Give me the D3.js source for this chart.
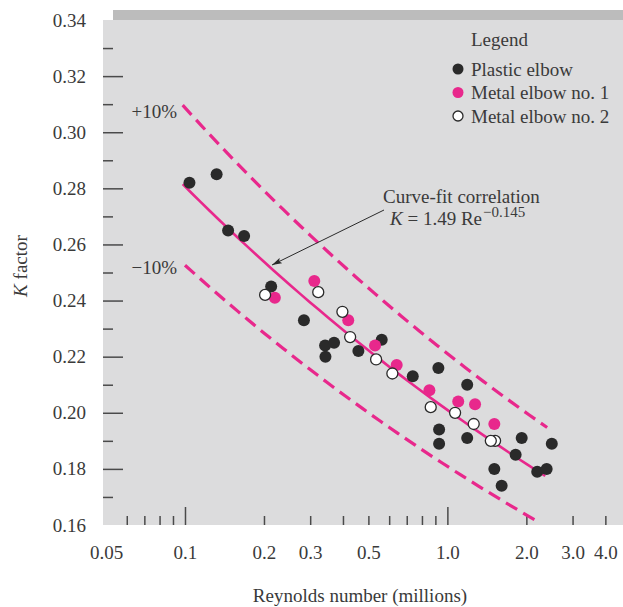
<!DOCTYPE html>
<html>
<head>
<meta charset="utf-8">
<script src="https://cdn.jsdelivr.net/npm/d3@7"></script>
<style>
  body { margin: 0; background: #fff; }
  text { font-family: "Liberation Serif", "Times New Roman", serif; fill: #3a3a3a; }
</style>
</head>
<body>
<div id="chart"></div>
<script>
// Reynolds number (millions), K factor
const plasticElbow = [
  [0.104, 0.282], [0.132, 0.285], [0.146, 0.265], [0.168, 0.263], [0.213, 0.245],
  [0.284, 0.233], [0.342, 0.224], [0.370, 0.225], [0.343, 0.220], [0.458, 0.222],
  [0.562, 0.226], [0.738, 0.213], [0.924, 0.216], [1.19, 0.210], [0.93, 0.194],
  [0.93, 0.189], [1.19, 0.191], [1.92, 0.191], [2.50, 0.189], [1.82, 0.185],
  [1.51, 0.180], [1.61, 0.174], [2.20, 0.179], [2.39, 0.180]
];
const metalElbow1 = [
  [0.220, 0.241], [0.311, 0.247], [0.419, 0.233], [0.530, 0.224], [0.641, 0.217],
  [0.854, 0.208], [1.10, 0.204], [1.275, 0.203], [1.51, 0.196]
];
const metalElbow2 = [
  [0.202, 0.242], [0.322, 0.243], [0.398, 0.236], [0.426, 0.227], [0.535, 0.219],
  [0.617, 0.214], [0.864, 0.202], [1.07, 0.200], [1.26, 0.196], [1.52, 0.190],
  [1.464, 0.190]
];

// K = 1.49 Re^-0.145 (Re in absolute units), with +/-10% bands
const fitCoef = 1.49;
const fitExp = -0.145;
const fitLines = [
  { name: "fit", factor: 1.0, from: 0.098, to: 2.36, dashed: false },
  { name: "plus10", factor: 1.1, from: 0.098, to: 2.40, dashed: true },
  { name: "minus10", factor: 0.9, from: 0.100, to: 2.25, dashed: true }
];

const yMajorTicks = [0.16, 0.18, 0.20, 0.22, 0.24, 0.26, 0.28, 0.30, 0.32, 0.34];
const yMinorTicks = [0.17, 0.19, 0.21, 0.23, 0.25, 0.27, 0.29, 0.31, 0.33];
const xLongTicks = [0.1, 1.0];
const xShortTicks = [0.06, 0.07, 0.08, 0.09, 0.2, 0.3, 0.4, 0.5, 0.6, 0.7, 0.8, 0.9, 2.0, 3.0, 4.0];
const xLabelTicks = [0.05, 0.1, 0.2, 0.3, 0.5, 1.0, 2.0, 3.0, 4.0];
const xLabelText = ["0.05", "0.1", "0.2", "0.3", "0.5", "1.0", "2.0", "3.0", "4.0"];

const legendItems = [
  { label: "Plastic elbow", fill: "#2a2a2a", stroke: "none" },
  { label: "Metal elbow no. 1", fill: "#e8288c", stroke: "none" },
  { label: "Metal elbow no. 2", fill: "#ffffff", stroke: "#2a2a2a" }
];

const width = 623, height = 607;
const plot = { left: 103, right: 623, top: 20, bottom: 525 };
const magenta = "#e8288c";
const dark = "#2a2a2a";
const fs = 19;

const svg = d3.select("#chart").append("svg")
  .attr("width", width)
  .attr("height", height);

const x = d3.scaleLog().domain([0.0487, 4.67]).range([plot.left, plot.right]);
const y = d3.scaleLinear().domain([0.16, 0.34]).range([plot.bottom, plot.top]);

// background
svg.append("rect")
  .attr("x", 113).attr("y", 10)
  .attr("width", plot.right - 113).attr("height", 10)
  .attr("fill", "#bcbcbc");
svg.append("rect")
  .attr("x", plot.left).attr("y", plot.top)
  .attr("width", plot.right - plot.left).attr("height", plot.bottom - plot.top)
  .attr("fill", "#dcdcdd");

svg.append("clipPath").attr("id", "plotClip")
  .append("rect")
  .attr("x", plot.left).attr("y", plot.top)
  .attr("width", plot.right - plot.left).attr("height", plot.bottom - plot.top);

// y axis
const yMajor = svg.append("g")
  .attr("transform", `translate(${plot.left},0)`)
  .call(d3.axisLeft(y).tickValues(yMajorTicks).tickSize(-20).tickPadding(17).tickFormat(d3.format(".2f")));
const yMinor = svg.append("g")
  .attr("transform", `translate(${plot.left},0)`)
  .call(d3.axisLeft(y).tickValues(yMinorTicks).tickSize(-10).tickFormat(""));
[yMajor, yMinor].forEach(g => {
  g.select(".domain").remove();
  g.selectAll("line").attr("stroke", "#4a4a4a").attr("stroke-width", 1.5);
  g.selectAll("text").attr("font-size", fs).attr("fill", "#3a3a3a")
    .attr("font-family", "Liberation Serif");
});
yMajor.selectAll(".tick").filter(d => d === 0.16 || d === 0.34).select("line").remove();

// x axis
const xLong = svg.append("g")
  .attr("transform", `translate(0,${plot.bottom})`)
  .call(d3.axisBottom(x).tickValues(xLongTicks).tickSize(-18).tickFormat(""));
const xShort = svg.append("g")
  .attr("transform", `translate(0,${plot.bottom})`)
  .call(d3.axisBottom(x).tickValues(xShortTicks).tickSize(-9).tickFormat(""));
const xLabels = svg.append("g")
  .attr("transform", `translate(0,${plot.bottom})`)
  .call(d3.axisBottom(x).tickValues(xLabelTicks).tickSize(0).tickPadding(21)
    .tickFormat((d, i) => xLabelText[i]));
[xLong, xShort, xLabels].forEach(g => {
  g.select(".domain").remove();
  g.selectAll("line").attr("stroke", "#4a4a4a").attr("stroke-width", 1.5);
  g.selectAll("text").attr("font-size", fs).attr("fill", "#3a3a3a")
    .attr("font-family", "Liberation Serif");
});

// axis titles
svg.append("text")
  .attr("x", 360).attr("y", 602)
  .attr("text-anchor", "middle")
  .attr("font-size", fs)
  .text("Reynolds number (millions)");

const yTitle = svg.append("text")
  .attr("transform", "translate(27,266) rotate(-90)")
  .attr("text-anchor", "middle")
  .attr("font-size", fs);
yTitle.append("tspan").attr("font-style", "italic").text("K");
yTitle.append("tspan").text(" factor");

// fit lines
const lineGen = d3.line()
  .x(d => x(d[0]))
  .y(d => y(d[1]));

const linesG = svg.append("g").attr("clip-path", "url(#plotClip)");
fitLines.forEach(f => {
  const lo = Math.log10(f.from), hi = Math.log10(f.to);
  const pts = d3.range(0, 41).map(i => {
    const re = Math.pow(10, lo + (hi - lo) * i / 40);
    return [re, f.factor * fitCoef * Math.pow(re * 1e6, fitExp)];
  });
  linesG.append("path")
    .datum(pts)
    .attr("d", lineGen)
    .attr("fill", "none")
    .attr("stroke", magenta)
    .attr("stroke-width", f.dashed ? 3.2 : 2.6)
    .attr("stroke-dasharray", f.dashed ? "13,7" : null);
});

// band labels
svg.append("text").attr("x", 177).attr("y", 118).attr("text-anchor", "end")
  .attr("font-size", fs).text("+10%");
svg.append("text").attr("x", 177).attr("y", 274).attr("text-anchor", "end")
  .attr("font-size", fs).text("\u221210%");

// annotation
svg.append("defs").append("marker")
  .attr("id", "arrow")
  .attr("viewBox", "0 0 10 6")
  .attr("refX", 10).attr("refY", 3)
  .attr("markerWidth", 10).attr("markerHeight", 6)
  .attr("markerUnits", "userSpaceOnUse")
  .attr("orient", "auto")
  .append("path")
  .attr("d", "M0,0 L10,3 L0,6 L2,3 Z")
  .attr("fill", "#2a2a2a");

svg.append("line")
  .attr("x1", 384).attr("y1", 210)
  .attr("x2", 272).attr("y2", 265)
  .attr("stroke", "#2a2a2a").attr("stroke-width", 1)
  .attr("marker-end", "url(#arrow)");

svg.append("text").attr("x", 383).attr("y", 203).attr("font-size", fs)
  .text("Curve-fit correlation");
const eq = svg.append("text").attr("x", 390).attr("y", 225).attr("font-size", fs);
eq.append("tspan").attr("font-style", "italic").text("K");
eq.append("tspan").text(" = 1.49 Re");
eq.append("tspan").attr("font-size", 15).attr("dx", 1).attr("dy", -8.5).text("\u22120.145");

// data points
const pointsG = svg.append("g");
pointsG.selectAll(".plastic")
  .data(plasticElbow)
  .join("circle")
  .attr("class", "plastic")
  .attr("cx", d => x(d[0])).attr("cy", d => y(d[1]))
  .attr("r", 6)
  .attr("fill", dark);
pointsG.selectAll(".metal1")
  .data(metalElbow1)
  .join("circle")
  .attr("class", "metal1")
  .attr("cx", d => x(d[0])).attr("cy", d => y(d[1]))
  .attr("r", 6)
  .attr("fill", magenta);
pointsG.selectAll(".metal2")
  .data(metalElbow2)
  .join("circle")
  .attr("class", "metal2")
  .attr("cx", d => x(d[0])).attr("cy", d => y(d[1]))
  .attr("r", 5.5)
  .attr("fill", "#fff")
  .attr("stroke", dark)
  .attr("stroke-width", 1.3);

// legend
const legend = svg.append("g");
legend.append("text").attr("x", 471).attr("y", 46).attr("font-size", fs).text("Legend");
legend.selectAll(".item")
  .data(legendItems)
  .join("g")
  .attr("class", "item")
  .attr("transform", (d, i) => `translate(458,${69 + i * 23.5})`)
  .each(function (d) {
    const g = d3.select(this);
    g.append("circle")
      .attr("r", d.stroke === "none" ? 5.5 : 5)
      .attr("fill", d.fill)
      .attr("stroke", d.stroke)
      .attr("stroke-width", 1.3);
    g.append("text")
      .attr("x", 13).attr("y", 6.5)
      .attr("font-size", fs)
      .text(d.label);
  });
</script>
</body>
</html>
